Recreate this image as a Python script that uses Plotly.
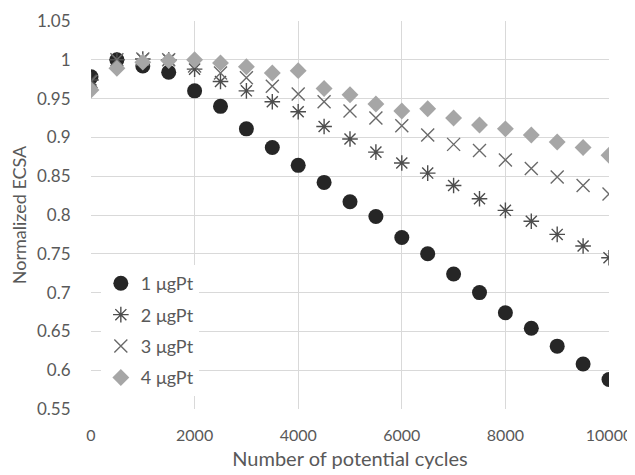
import plotly.graph_objects as go

cycles = [0, 500, 1000, 1500, 2000, 2500, 3000, 3500, 4000, 4500, 5000,
          5500, 6000, 6500, 7000, 7500, 8000, 8500, 9000, 9500, 10000]

pt1 = [0.978, 1.000, 0.992, 0.984, 0.960, 0.940, 0.911, 0.887, 0.864, 0.842, 0.817,
       0.798, 0.771, 0.750, 0.724, 0.700, 0.674, 0.654, 0.631, 0.608, 0.588]
pt2 = [0.974, 1.000, 1.001, 1.000, 0.988, 0.972, 0.960, 0.946, 0.933, 0.914, 0.898,
       0.881, 0.867, 0.854, 0.838, 0.821, 0.806, 0.792, 0.775, 0.760, 0.745]
pt3 = [0.972, 1.000, 1.001, 1.000, 0.992, 0.983, 0.977, 0.966, 0.956, 0.946, 0.934,
       0.925, 0.915, 0.903, 0.891, 0.883, 0.871, 0.860, 0.849, 0.838, 0.827]
pt4 = [0.961, 0.989, 0.997, 0.999, 1.000, 0.996, 0.991, 0.983, 0.986, 0.963, 0.955,
       0.943, 0.934, 0.937, 0.925, 0.916, 0.911, 0.903, 0.894, 0.887, 0.877]

names = ["1 μgPt", "2 μgPt", "3 μgPt", "4 μgPt"]

y_ticks = [0.55, 0.6, 0.65, 0.7, 0.75, 0.8, 0.85, 0.9, 0.95, 1.0, 1.05]
y_labels = ["0.55", "0.6", "0.65", "0.7", "0.75", "0.8", "0.85", "0.9", "0.95", "1", "1.05"]
x_ticks = [0, 2000, 4000, 6000, 8000, 10000]

FONT = "Lato"
TXT = "#595959"

fig = go.Figure()
fig.add_trace(go.Scatter(x=cycles, y=pt1, mode="markers", name=names[0], legendgroup="a",
                         marker=dict(symbol="circle", size=15, color="#262626")))
fig.add_trace(go.Scatter(x=cycles, y=pt2, mode="markers", name=names[1], legendgroup="b",
                         marker=dict(symbol="asterisk-open", size=13, color="#4d4d4d",
                                     line=dict(width=1.4, color="#4d4d4d"))))
fig.add_trace(go.Scatter(x=cycles, y=pt3, mode="markers", name=names[2], legendgroup="c",
                         marker=dict(symbol="x-thin-open", size=13, color="#6a6a6a",
                                     line=dict(width=1.4, color="#6a6a6a"))))
fig.add_trace(go.Scatter(x=cycles, y=pt4, mode="markers", name=names[3], legendgroup="d",
                         marker=dict(symbol="diamond", size=13, color="#a6a6a6")))

# page body has an 8px default margin, so the figure is offset by 8px
fig.update_layout(
    width=627, height=467,
    margin=dict(l=83, r=26, t=13, b=66, autoexpand=False),
    paper_bgcolor="white", plot_bgcolor="white",
    font=dict(family=FONT, size=16, color=TXT),
    legend=dict(x=0.019, y=0.371, xanchor="left", yanchor="top",
                bgcolor="white", font=dict(size=18, color=TXT),
                tracegroupgap=5, traceorder="grouped"),
    xaxis=dict(range=[0, 10000], tickvals=x_ticks, tickformat="d", automargin=False,
               showgrid=True, gridcolor="#d9d9d9", gridwidth=1,
               zeroline=False, showline=False,
               ticks="outside", ticklen=12, tickcolor="rgba(0,0,0,0)",
               tickfont=dict(size=16, color=TXT),
               title=dict(text="Number of potential cycles", font=dict(size=20, color=TXT), standoff=8)),
    yaxis=dict(range=[0.55, 1.05], tickvals=y_ticks, ticktext=y_labels, automargin=False,
               showgrid=True, gridcolor="#d9d9d9", gridwidth=1,
               zeroline=False, showline=False,
               ticks="outside", ticklen=16, tickcolor="rgba(0,0,0,0)",
               tickfont=dict(size=17, color=TXT),
               title=dict(text="Normalized ECSA", font=dict(size=18, color=TXT), standoff=7)),
)

fig.write_html("out.html")
